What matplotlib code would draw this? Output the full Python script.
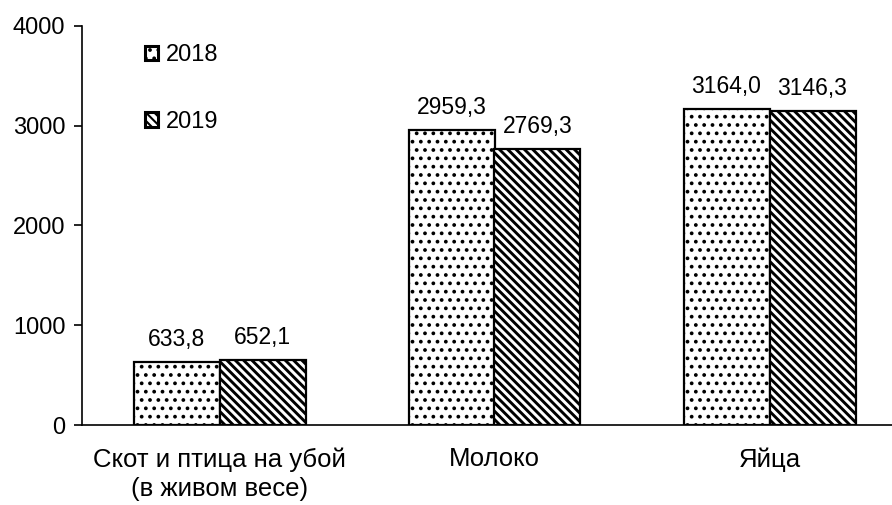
import matplotlib
matplotlib.use("Agg")
import matplotlib.pyplot as plt
from matplotlib.patches import Patch
import numpy as np

plt.rcParams['font.family'] = ['Liberation Sans', 'DejaVu Sans']

categories = ["Скот и птица на убой\n(в живом весе)", "Молоко", "Яйца"]
years = ["2018", "2019"]
values_2018 = [633.8, 2959.3, 3164.0]
values_2019 = [652.1, 2769.3, 3146.3]
yticks = [0, 1000, 2000, 3000, 4000]

FS = 16.5
h18 = '..'
h19 = '\\\\\\\\'
lw18 = 1.5
lw19 = 2.1


def set_hlw(artists, lw):
    for a in artists:
        if hasattr(a, 'set_hatch_linewidth'):
            a.set_hatch_linewidth(lw)


fig = plt.figure(figsize=(8.92, 5.05), dpi=100)
ax = fig.add_axes([82/892, 1-425/505, 1-82/892, (425-26)/505])

x = np.arange(len(categories))
w = 86/275
with plt.rc_context({'hatch.linewidth': lw18}):
    b1 = ax.bar(x - w/2, values_2018, w, facecolor='white', edgecolor='black', hatch=h18, linewidth=1.6, label=years[0])
set_hlw(b1, lw18)
with plt.rc_context({'hatch.linewidth': lw19}):
    b2 = ax.bar(x + w/2, values_2019, w, facecolor='white', edgecolor='black', hatch=h19, linewidth=1.6, label=years[1])
set_hlw(b2, lw19)

def fmt(v):
    return f"{v:.1f}".replace('.', ',')

for bars, vals in ((b1, values_2018), (b2, values_2019)):
    for r, v in zip(bars, vals):
        ax.annotate(fmt(v), (r.get_x() + r.get_width()/2, v), xytext=(0, 8),
                    textcoords='offset points', ha='center', va='bottom', fontsize=FS)

ax.set_xlim(-0.5, 2.5 - 15/275)
ax.set_ylim(0, 4000)
ax.set_yticks(yticks)
ax.set_yticklabels([str(t) for t in yticks], fontsize=17)
ax.set_xticks(x)
ax.set_xticklabels(categories, fontsize=18.5, linespacing=1.3)
ax.tick_params(axis='x', length=0, pad=16)
ax.tick_params(axis='y', length=6, width=1.2, direction='out', pad=6)
for s in ('top', 'right'):
    ax.spines[s].set_visible(False)
ax.spines['left'].set_linewidth(1.2)
ax.spines['bottom'].set_linewidth(1.2)

with plt.rc_context({'hatch.linewidth': lw18}):
    p1 = Patch(facecolor='white', edgecolor='black', hatch=h18, linewidth=2.2)
with plt.rc_context({'hatch.linewidth': lw19}):
    p2 = Patch(facecolor='white', edgecolor='black', hatch=h19, linewidth=2.2)
set_hlw([p1], lw18)
set_hlw([p2], lw19)
leg = ax.legend([p1, p2], years, loc='upper left', bbox_to_anchor=(0.052, 1.008), frameon=False,
                handlelength=0.55, handleheight=0.55, handletextpad=0.3, labelspacing=1.9,
                fontsize=17)
set_hlw(leg.get_patches(), 1.5)

fig.savefig("out.png", dpi=100)
